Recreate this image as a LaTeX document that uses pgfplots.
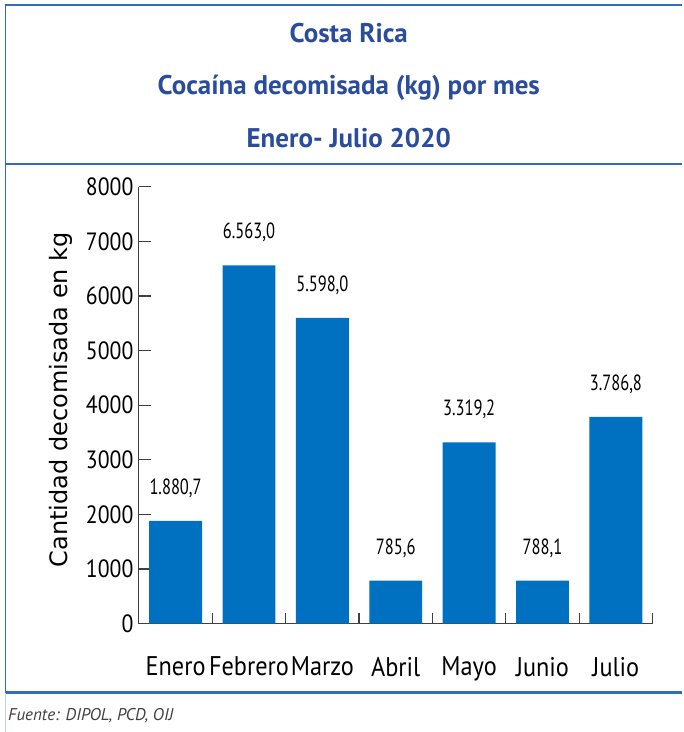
\documentclass[border=0pt]{standalone}
\usepackage{pgfplots}
\pgfplotsset{compat=1.18}
\usepackage{fontspec}
\setmainfont{PT Sans}
\newfontfamily\titlefont{PT Sans}
\newfontfamily\tickfont[FakeStretch=0.87]{PT Sans}
\newfontfamily\labfont[FakeStretch=0.9]{PT Sans}
\newfontfamily\datafont[FakeStretch=0.75]{PT Sans}
\newfontfamily\ylabfont{DejaVu Sans}
\definecolor{barblue}{HTML}{0070C0}
\definecolor{titleblue}{HTML}{2A4C9C}
\definecolor{frameblue}{HTML}{2F6EB5}
\begin{document}
\begin{tikzpicture}
\path (0pt,0pt) rectangle (682pt,732pt);
\begin{axis}[
  at={(139pt,108pt)}, anchor=south west,
  scale only axis, width=514pt, height=437pt,
  xmin=-0.5, xmax=6.5, ymin=0, ymax=8000,
  axis lines*=left,
  axis line style={draw=black!75, line width=1.1pt},
  tick align=inside,
  ytick={0,1000,...,8000},
  major tick length=12pt,
  minor tick length=11pt,
  xtick={0,...,6},
  xticklabels={Enero,Febrero,Marzo,Abril,Mayo,Junio,Julio},
  major x tick style={draw=none},
  minor xtick={0.5,1.5,...,6.5},
  minor x tick style={draw=black!75, line width=1.1pt},
  major y tick style={draw=black!75, line width=1.1pt},
  /pgf/number format/assume math mode=true,
  /pgf/number format/1000 sep={},
  yticklabel style={font=\tickfont\fontsize{25}{25}\selectfont, xshift=-2pt},
  xticklabel style={font=\labfont\fontsize{27}{27}\selectfont, yshift=-30pt},
  point meta=explicit symbolic,
  nodes near coords,
  every node near coord/.style={anchor=south, inner sep=0pt, yshift=23pt, font=\datafont\fontsize{22}{22}\selectfont, text=black},
  clip=false,
]
\addplot[ybar, bar width=0.72, bar shift=0pt, fill=barblue, draw=none] coordinates {
  (0,1880.7) [1.880,7]
  (1,6563.0) [6.563,0]
  (2,5598.0) [5.598,0]
  (3,785.6) [785,6]
  (4,3319.2) [3.319,2]
  (5,788.1) [788,1]
  (6,3786.8) [3.786,8]
};
\end{axis}
\begin{scope}[x=1pt,y=1pt]
% frame
\draw[frameblue, line width=1.8pt] (682,727) -- (5.5,727) -- (5.5,39);
\draw[frameblue, line width=2.2pt] (5.5,568) -- (682,568);
\draw[frameblue, line width=3.5pt] (5.5,39) -- (682,39);
\draw[frameblue!30, line width=1pt] (5.5,39) -- (5.5,0);
% titles
\node[titleblue, anchor=base, font=\titlefont\fontsize{27}{30}\selectfont\bfseries] at (349,689) {Costa Rica};
\node[titleblue, anchor=base, font=\titlefont\fontsize{27}{30}\selectfont\bfseries] at (349,637) {Cocaína decomisada (kg) por mes};
\node[titleblue, anchor=base, font=\titlefont\fontsize{27}{30}\selectfont\bfseries] at (349,584) {Enero- Julio 2020};
% y label
\node[rotate=90, font=\ylabfont\fontsize{24}{28}\selectfont] at (61,332) {Cantidad decomisada en kg};
% footer
\node[anchor=west, inner sep=0pt, text=black!75, font=\fontsize{17}{20}\selectfont\itshape] at (8,16) {Fuente: DIPOL, PCD, OIJ};
\end{scope}
\end{tikzpicture}
\end{document}
